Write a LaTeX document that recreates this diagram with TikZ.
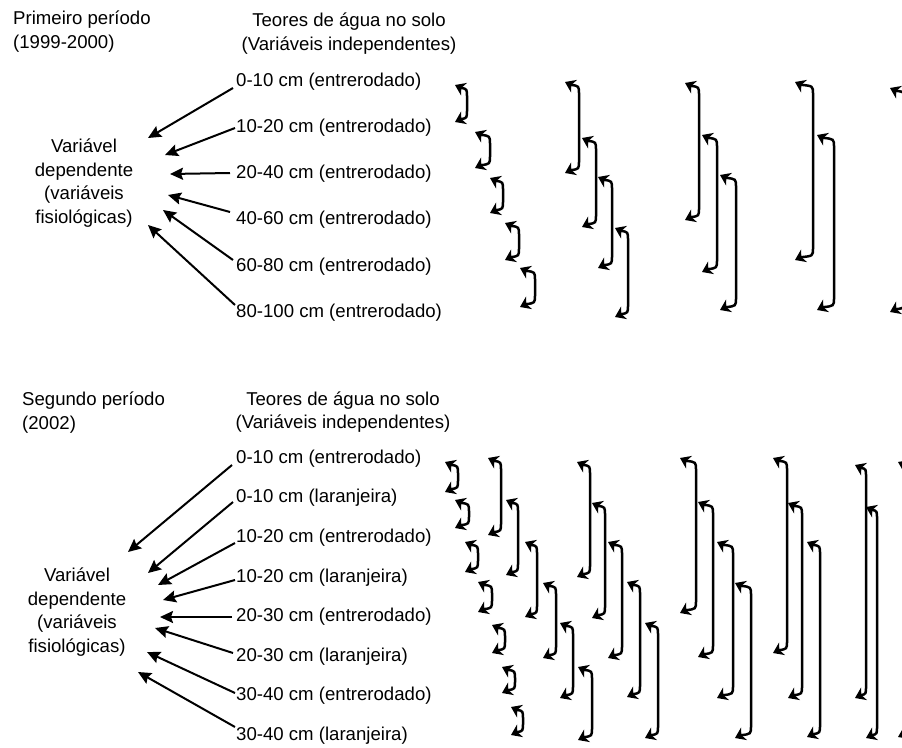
\documentclass[tikz,border=0pt]{standalone}
\usepackage{fontspec}
\setmainfont{Liberation Sans}
\usetikzlibrary{arrows.meta,calc}
% bracket: tip x, vertical x, top y, bottom y (y grows downwards)
\newcommand\bkt[4]{%
  \draw[brkline] (#1+6,#3+2.8) .. controls (#2,#3+4) .. (#2,#3+12) -- (#2,#4-12) .. controls (#2,#4-4) .. (#1+6,#4-2.8);
  \fill[black] (#1,#3) -- (#1+6.1,#3+10.6) -- (#1+6.3,#3+3) -- (#1+12,#3-2.1) -- cycle;
  \fill[black] (#1,#4) -- (#1+12,#4+2.1) -- (#1+6.3,#4-3) -- (#1+6.1,#4-10.6) -- cycle;}
\begin{document}
\begin{tikzpicture}[x=1pt,y=-1pt,
  txt/.style={font=\fontsize{18.6}{23.4}\selectfont, inner sep=0pt},
  row/.style={txt, anchor=west},
  dep/.style={->, >={Stealth[length=13pt,width=12pt,inset=2pt]}, line width=2pt},
  brkline/.style={line width=2.5pt}]
\useasboundingbox (0,0) rectangle (902,747);

% ---------- first period ----------
\node[txt, anchor=west, align=left] (p1) at (13,31.5) {Primeiro período\\(1999-2000)};
\node[txt, align=center] (h1) at (349,33.5) {Teores de água no solo\\(Variáveis independentes)};
\node[txt, align=center] (d1) at (84,183) {Variável\\dependente\\(variáveis\\fisiológicas)};

\node[row] (a1) at (236,82)  {0-10 cm (entrerodado)};
\node[row] (a2) at (236,128) {10-20 cm (entrerodado)};
\node[row] (a3) at (236,174) {20-40 cm (entrerodado)};
\node[row] (a4) at (236,220) {40-60 cm (entrerodado)};
\node[row] (a5) at (236,267) {60-80 cm (entrerodado)};
\node[row] (a6) at (236,313) {80-100 cm (entrerodado)};

\coordinate (ta1) at (148,138);
\coordinate (ta2) at (165,155);
\coordinate (ta3) at (170,174);
\coordinate (ta4) at (168,195);
\coordinate (ta5) at (163,210);
\coordinate (ta6) at (148,225);

\draw[dep] ($(a1.west)+(-3,6)$) -- (ta1);
\draw[dep] ($(a2.west)+(-1,0)$) -- (ta2);
\draw[dep] ($(a3.west)+(-6,-1)$) -- (ta3);
\draw[dep] ($(a4.west)+(-6,-8)$) -- (ta4);
\draw[dep] ($(a5.west)+(-3,-7)$) -- (ta5);
\draw[dep] ($(a6.west)+(-1,-8)$) -- (ta6);

% ---------- second period ----------
\node[txt, anchor=west, align=left] (p2) at (22,412.5) {Segundo período\\(2002)};
\node[txt, align=center] (h2) at (343,412) {Teores de água no solo\\(Variáveis independentes)};
\node[txt, align=center] (d2) at (77,612) {Variável\\dependente\\(variáveis\\fisiológicas)};

\node[row] (b1) at (236,459) {0-10 cm (entrerodado)};
\node[row] (b2) at (236,498) {0-10 cm (laranjeira)};
\node[row] (b3) at (236,538) {10-20 cm (entrerodado)};
\node[row] (b4) at (236,578) {10-20 cm (laranjeira)};
\node[row] (b5) at (236,617) {20-30 cm (entrerodado)};
\node[row] (b6) at (236,657) {20-30 cm (laranjeira)};
\node[row] (b7) at (236,696) {30-40 cm (entrerodado)};
\node[row] (b8) at (236,736) {30-40 cm (laranjeira)};

\coordinate (tb1) at (128,552);
\coordinate (tb2) at (148,573);
\coordinate (tb3) at (158,585);
\coordinate (tb4) at (163,600);
\coordinate (tb5) at (160,617);
\coordinate (tb6) at (155,628);
\coordinate (tb7) at (147,652);
\coordinate (tb8) at (138,672);

\draw[dep] ($(b1.west)+(-4,6)$) -- (tb1);
\draw[dep] ($(b2.west)+(-3,4)$) -- (tb2);
\draw[dep] ($(b3.west)+(-1,5)$) -- (tb3);
\draw[dep] ($(b4.west)+(-1,2)$) -- (tb4);
\draw[dep] ($(b5.west)+(-4,0)$) -- (tb5);
\draw[dep] ($(b6.west)+(-3,-4)$) -- (tb6);
\draw[dep] ($(b7.west)+(-1,-3)$) -- (tb7);
\draw[dep] ($(b8.west)+(-1,-9)$) -- (tb8);

% ---------- correlation brackets ----------
% first period
\bkt{455}{467}{85}{122}
\bkt{475}{490}{132}{168}
\bkt{490}{503}{178}{213}
\bkt{505}{519}{223}{260}
\bkt{520}{535}{268}{307}
\bkt{565}{579}{82}{173}
\bkt{582}{596}{138}{227}
\bkt{598}{612}{177}{268}
\bkt{615}{628}{228}{317}
\bkt{685}{699}{83}{220}
\bkt{702}{717}{135}{272}
\bkt{720}{736}{175}{310}
\bkt{795}{813}{82}{260}
\bkt{817}{834}{135}{310}
\bkt{890}{905}{88}{312}
% second period
\bkt{445}{458}{462}{492}
\bkt{455}{469}{500}{528}
\bkt{465}{478}{542}{572}
\bkt{478}{492}{582}{612}
\bkt{492}{505}{625}{653}
\bkt{502}{515}{667}{693}
\bkt{511}{523}{707}{735}
\bkt{488}{501}{458}{535}
\bkt{506}{518}{500}{575}
\bkt{525}{537}{542}{617}
\bkt{543}{556}{583}{658}
\bkt{560}{573}{623}{698}
\bkt{578}{592}{667}{740}
\bkt{577}{590}{462}{577}
\bkt{592}{605}{503}{618}
\bkt{608}{622}{542}{658}
\bkt{627}{640}{582}{697}
\bkt{645}{658}{623}{738}
\bkt{680}{696}{458}{613}
\bkt{698}{713}{502}{657}
\bkt{717}{733}{542}{698}
\bkt{735}{751}{583}{738}
\bkt{773}{787}{458}{653}
\bkt{788}{802}{503}{698}
\bkt{807}{820}{542}{737}
\bkt{855}{866}{465}{698}
\bkt{866}{877}{507}{738}
\bkt{898}{912}{462}{737}
\end{tikzpicture}
\end{document}
